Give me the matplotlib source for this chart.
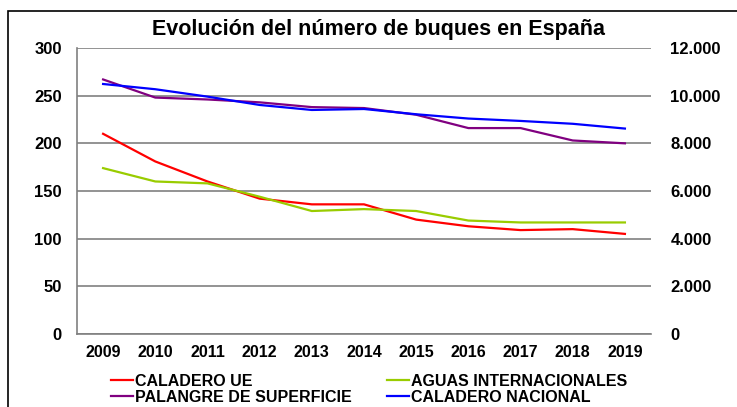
import matplotlib.pyplot as plt
from matplotlib.patches import Rectangle
from matplotlib.ticker import FuncFormatter

plt.rcParams['font.family'] = ['Liberation Sans', 'DejaVu Sans']
plt.rcParams['font.weight'] = 'bold'

years = ['2009', '2010', '2011', '2012', '2013', '2014', '2015', '2016', '2017', '2018', '2019']

# left axis
caladero_ue = [210, 181, 160, 142, 136, 136, 120, 113, 109, 110, 105]
aguas_internacionales = [174, 160, 158, 144, 129, 131, 129, 119, 117, 117, 117]
palangre_superficie = [267, 248, 246, 243, 238, 237, 230, 216, 216, 203, 200]
# right axis
caladero_nacional = [10490, 10270, 9960, 9610, 9400, 9440, 9220, 9040, 8940, 8820, 8620]

fig = plt.figure(figsize=(7.37, 4.07), dpi=100)
ax = fig.add_axes([77 / 737, 1 - 334 / 407, (651 - 77) / 737, (334 - 48) / 407])
ax2 = ax.twinx()

x = list(range(len(years)))
l1, = ax.plot(x, caladero_ue, color='#ff0000', linewidth=1.6, label='CALADERO UE')
l2, = ax.plot(x, aguas_internacionales, color='#99cc00', linewidth=1.6, label='AGUAS INTERNACIONALES')
l3, = ax.plot(x, palangre_superficie, color='#800080', linewidth=1.6, label='PALANGRE DE SUPERFICIE')
l4, = ax2.plot(x, caladero_nacional, color='#0000ff', linewidth=1.6, label='CALADERO NACIONAL')

ax.set_xlim(-0.5, len(years) - 0.5)
ax.set_ylim(0, 300)
ax.set_yticks(range(0, 301, 50))
ax2.set_ylim(0, 12000)
ax2.set_yticks(range(0, 12001, 2000))
ax2.yaxis.set_major_formatter(FuncFormatter(lambda v, p: f'{int(v):,}'.replace(',', '.')))

ax.set_xticks(x)
ax.set_xticklabels(years)
ax.yaxis.grid(True, color='#808080', linewidth=1.2)
ax.set_axisbelow(True)

for a in (ax, ax2):
    for s in ('top', 'right', 'left', 'bottom'):
        a.spines[s].set_visible(False)
for s in ('left', 'bottom'):
    ax.spines[s].set_visible(True)
    ax.spines[s].set_color('#808080')
    ax.spines[s].set_linewidth(1.2)

ax.tick_params(axis='y', length=0, pad=11, labelsize=12)
ax.tick_params(axis='x', length=0, pad=8, labelsize=11.5)
ax2.tick_params(axis='y', length=0, pad=14, labelsize=12)

fig.text(378 / 737, 1 - 30 / 407, 'Evolución del número de buques en España',
         ha='center', va='center', fontsize=15.5, fontweight='bold')

fig.legend([l1, l3, l2, l4], [l1.get_label(), l3.get_label(), l2.get_label(), l4.get_label()],
           ncol=2, loc='upper left', bbox_to_anchor=(111 / 737, 1 - 374 / 407),
           frameon=False, fontsize=11.5, handlelength=1.4, handletextpad=0.1,
           columnspacing=2.2, labelspacing=0.05, borderpad=0, borderaxespad=0)

# outer chart border (cropped on the right and bottom)
fig.patches.append(Rectangle((8 / 737, -0.1), 1.2, 1 - 11 / 407 + 0.1, transform=fig.transFigure,
                             fill=False, edgecolor='black', linewidth=1.2))

fig.savefig('out.png', dpi=100)
